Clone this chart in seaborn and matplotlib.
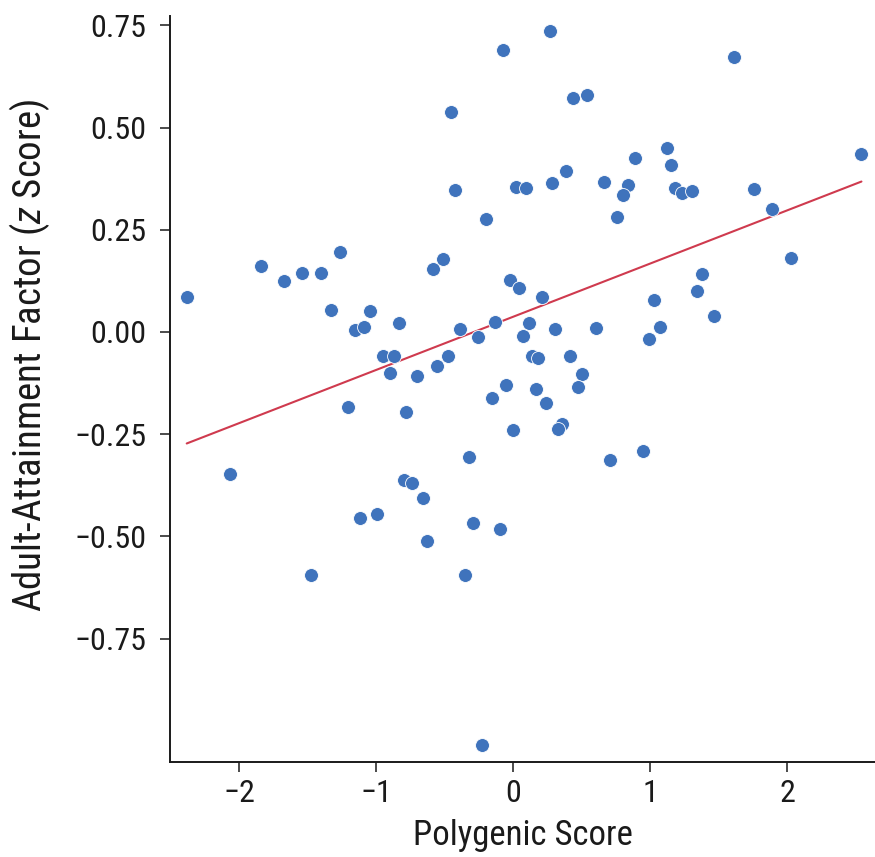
import numpy as np
import pandas as pd
import matplotlib
matplotlib.use("Agg")
import matplotlib.pyplot as plt
import seaborn as sns

# Polygenic score (x) and adult-attainment factor z score (y) for each participant
polygenic_score = [
    -2.385, -2.071, -1.840, -1.673, -1.542, -1.408, -1.268, -1.333, -1.159, -1.089,
    -1.045, -0.836, -0.589, -0.514, -0.453, -0.424, -0.199, -0.073, 0.018, 0.095,
    -0.024, 0.040, -0.388, -0.138, -0.260, 0.267, 1.610, 0.436, 0.538, 2.540,
    1.118, 1.151, 0.889, 0.385, 0.281, 0.662, 0.836, 0.802, 0.754, 1.180,
    1.227, 1.302, 1.755, 1.884, 2.024, 1.375, 1.338, 1.028, 1.467, 1.069,
    0.989, 0.211, 0.116, 0.303, 0.599, 0.073, -0.950, -0.870, -0.902, -0.705,
    -0.558, -0.478, -1.205, -0.781, -0.051, -0.155, 0.000, -0.325, -0.802, -0.737,
    -0.662, -1.120, -0.996, -0.298, -0.100, -0.628, -1.479, -0.351, 0.133, 0.182,
    0.415, 0.502, 0.468, 0.162, 0.240, 0.351, 0.322, 0.945, 0.705, -0.230,
]
attainment = [
    0.086, -0.347, 0.162, 0.125, 0.145, 0.145, 0.196, 0.053, 0.005, 0.013,
    0.050, 0.022, 0.154, 0.179, 0.539, 0.347, 0.276, 0.690, 0.355, 0.351,
    0.127, 0.107, 0.007, 0.024, -0.013, 0.735, 0.673, 0.573, 0.579, 0.435,
    0.451, 0.409, 0.426, 0.394, 0.365, 0.367, 0.360, 0.335, 0.281, 0.351,
    0.341, 0.344, 0.350, 0.301, 0.180, 0.141, 0.100, 0.077, 0.040, 0.011,
    -0.018, 0.085, 0.021, 0.006, 0.009, -0.010, -0.058, -0.058, -0.101, -0.108,
    -0.083, -0.060, -0.184, -0.197, -0.130, -0.162, -0.240, -0.306, -0.362, -0.369,
    -0.406, -0.455, -0.446, -0.468, -0.482, -0.511, -0.594, -0.595, -0.059, -0.064,
    -0.058, -0.104, -0.134, -0.139, -0.175, -0.226, -0.237, -0.292, -0.313, -1.010,
]

x_ticks = [-2, -1, 0, 1, 2]
y_ticks = [0.75, 0.50, 0.25, 0.00, -0.25, -0.50, -0.75]
y_tick_labels = ["0.75", "0.50", "0.25", "0.00", "\u22120.25", "\u22120.50", "\u22120.75"]
x_tick_labels = ["\u22122", "\u22121", "0", "1", "2"]

df = pd.DataFrame({"Polygenic Score": polygenic_score, "Attainment": attainment})

sns.set_theme(style="ticks")
narrow = "Roboto Condensed"
plt.rcParams["font.family"] = [narrow, "DejaVu Sans"]
plt.rcParams["mathtext.fontset"] = "custom"
plt.rcParams["mathtext.rm"] = narrow
plt.rcParams["mathtext.it"] = narrow + ":italic"

dot_color = "#3F73BC"
line_color = "#CF3A4E"
ink = "#1a1a1a"

fig = plt.figure(figsize=(8.75, 8.57), dpi=100)
ax = fig.add_axes([0.1943, 0.1109, 0.8057, 0.8710])

sns.scatterplot(data=df, x="Polygenic Score", y="Attainment", ax=ax,
                color=dot_color, s=100, edgecolor="white", linewidth=0.6, zorder=3)
sns.regplot(data=df, x="Polygenic Score", y="Attainment", ax=ax, scatter=False,
            ci=None, truncate=True, line_kws={"color": line_color, "linewidth": 1.5, "zorder": 2})

ax.set_xlim(-2.507, 2.639)
ax.set_ylim(-1.052, 0.774)
ax.set_xticks(x_ticks)
ax.set_xticklabels(x_tick_labels)
ax.set_yticks(y_ticks)
ax.set_yticklabels(y_tick_labels)

for side in ("top", "right"):
    ax.spines[side].set_visible(False)
for side in ("left", "bottom"):
    ax.spines[side].set_linewidth(1.4)
    ax.spines[side].set_color(ink)

ax.tick_params(axis="both", direction="out", length=7, width=1.1, color=ink,
               labelsize=23, labelcolor=ink)
ax.tick_params(axis="y", pad=10)
ax.tick_params(axis="x", pad=5)

ax.set_xlabel("Polygenic Score", fontsize=25, color=ink, labelpad=8)
ax.set_ylabel("Adult-Attainment Factor ($z$ Score)", fontsize=28, color=ink)
ax.yaxis.set_label_coords(-0.168, 0.545)

fig.savefig("out.png", dpi=100)
